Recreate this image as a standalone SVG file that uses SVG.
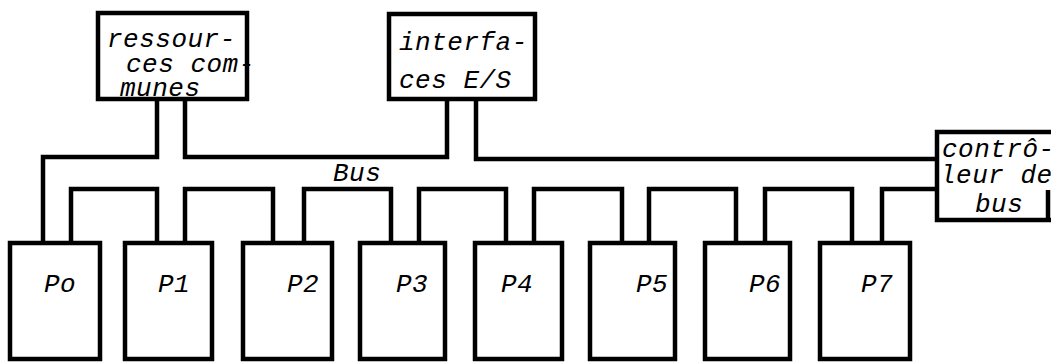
<svg xmlns="http://www.w3.org/2000/svg" width="1051" height="363" viewBox="0 0 1051 363">
<style>
.box{fill:#fff;stroke:#000;stroke-width:4.5}
.w{fill:none;stroke:#000;stroke-width:4.5;stroke-linejoin:miter}
text{font-family:"Liberation Mono","DejaVu Sans Mono",monospace;font-style:italic;font-size:26px;letter-spacing:0.5px;fill:#000}
</style>
<rect width="1051" height="363" fill="#fff"/>
<g id="connectors">
<path class="w" d="M43,243 V157 H157 V99"/>
<path class="w" d="M185,99 V157 H447 V99"/>
<path class="w" d="M476,99 V159 H937"/>
<path class="w" d="M71,243 V189 H157 V243"/>
<path class="w" d="M185,243 V189 H273 V243"/>
<path class="w" d="M304,243 V189 H391 V243"/>
<path class="w" d="M419,243 V189 H506 V243"/>
<path class="w" d="M534,243 V189 H622 V243"/>
<path class="w" d="M649,243 V189 H736 V243"/>
<path class="w" d="M765,243 V189 H852 V243"/>
<path class="w" d="M882,243 V189 H937"/>
<text x="333" y="181">Bus</text>
</g>
<g id="ressources">
<rect class="box" x="98" y="13" width="149" height="86"/>
<text x="107" y="47">ressour-</text>
<text x="126" y="72">ces com-</text>
<text x="120" y="96">munes</text>
</g>
<g id="interfaces">
<rect class="box" x="389" y="14" width="146" height="85"/>
<text x="399" y="50">interfa-</text>
<text x="399" y="88">ces E/S</text>
</g>
<g id="controleur">
<path class="box" d="M1053,132 H937 V220 H1053"/>
<path class="w" d="M1048,190 V220"/>
<text x="942" y="157">contrô-</text>
<text x="940" y="183">leur de</text>
<text x="975" y="212">bus</text>
</g>
<g id="P0"><rect class="box" x="10" y="243" width="90" height="116"/><text x="44" y="292">Po</text></g>
<g id="P1"><rect class="box" x="125" y="243" width="87" height="116"/><text x="158" y="292">P1</text></g>
<g id="P2"><rect class="box" x="243" y="243" width="89" height="116"/><text x="287" y="292">P2</text></g>
<g id="P3"><rect class="box" x="360" y="243" width="85" height="116"/><text x="396" y="292">P3</text></g>
<g id="P4"><rect class="box" x="475" y="243" width="87" height="116"/><text x="501" y="292">P4</text></g>
<g id="P5"><rect class="box" x="590" y="243" width="85" height="116"/><text x="636" y="292">P5</text></g>
<g id="P6"><rect class="box" x="705" y="243" width="85" height="116"/><text x="749" y="292">P6</text></g>
<g id="P7"><rect class="box" x="820" y="243" width="90" height="116"/><text x="861" y="292">P7</text></g>
</svg>
